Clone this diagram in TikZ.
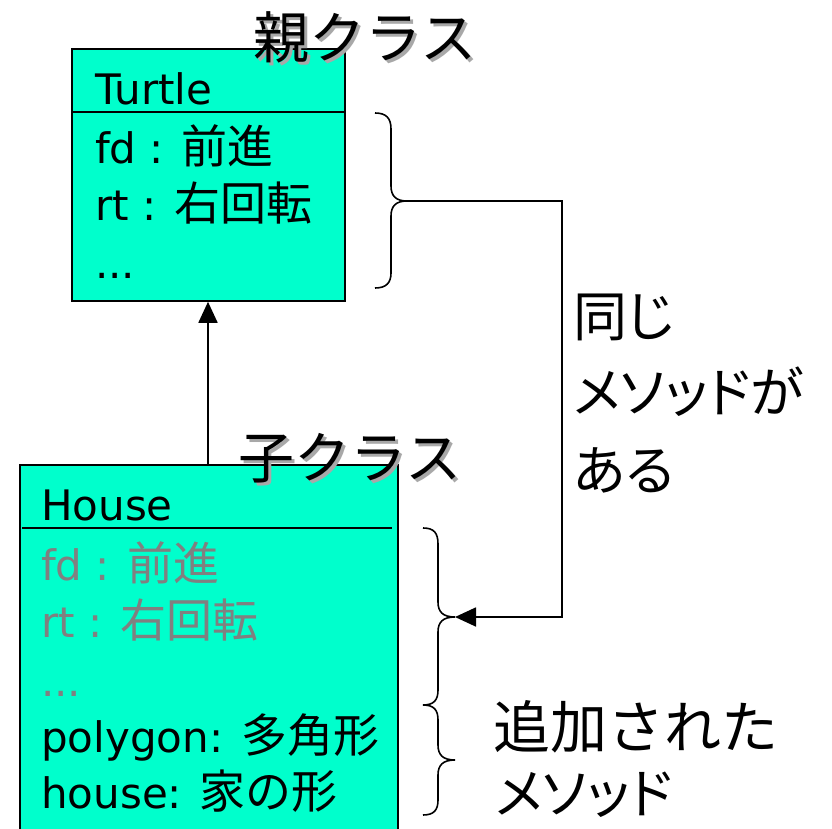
\documentclass[tikz,border=0pt]{standalone}
\usepackage{fontspec}
\setmainfont{DejaVu Sans}
\newfontfamily\jp{Noto Sans CJK JP}
\newfontfamily\jpp{Noto Sans CJK JP}[RawFeature=+palt]
\usetikzlibrary{arrows.meta}
\definecolor{boxfill}{HTML}{00FFCC}
\definecolor{graytext}{HTML}{808080}
\definecolor{shadowgray}{HTML}{A8A8A8}
\newcommand\shadowed[1]{\makebox[0pt][l]{\hspace{3pt}\raisebox{-3pt}{\color{shadowgray}#1}}#1}
\newcommand\jt[1]{{\jp\fontsize{46}{50}\selectfont #1}}
\begin{document}
\begin{tikzpicture}[x=1pt,y=-1pt,
  classbox/.style={draw=black, line width=1.8pt, fill=boxfill, rectangle, inner sep=0pt, anchor=north west},
  member/.style={anchor=base west, inner sep=0pt, font=\fontsize{42}{50}\selectfont},
  big/.style={anchor=base west, inner sep=0pt, font=\jp\fontsize{56}{60}\selectfont},
  note/.style={anchor=base west, inner sep=0pt, font=\jpp\fontsize{54}{60}\selectfont},
  notewide/.style={anchor=base west, inner sep=0pt, font=\jp\fontsize{57}{60}\selectfont},
  conn/.style={line width=1.8pt, -{Triangle[length=21pt,width=19pt]}},
  bracestyle/.style={line width=1.6pt},
  sep/.style={line width=1.6pt},
]
\fill[white] (0,0) rectangle (832,829);
\clip (0,0) rectangle (832,829);

% Turtle class
\node[classbox, minimum width=273pt, minimum height=252pt] (turtle) at (71,48) {};
\draw[sep] (71,112) -- (344,112);
\node[member] (tname) at (95,105) {Turtle};
\node[member] (tfd) at (95,164) {fd : \jt{前進}};
\node[member] (trt) at (95,220) {rt : \jt{右回転}};
\node[member] (tdots) at (95,278) {...};

% House class
\node[classbox, minimum width=378pt, minimum height=420pt] (house) at (19,464) {};
\draw[sep] (22,528) -- (392,528);
\node[member] (hname) at (41,520) {House};
\node[member, text=graytext] (hfd) at (41,580) {fd : \jt{前進}};
\node[member, text=graytext] (hrt) at (41,637) {rt : \jt{右回転}};
\node[member, text=graytext] (hdots) at (41,696) {...};
\node[member] (hpoly) at (41,752) {polygon: \jt{多角形}};
\node[member] (hhouse) at (41,808) {house: \jt{家の形}};

% inheritance arrow
\coordinate (ax) at (208,0);
\draw[conn] (ax |- house.north) -- (ax |- turtle.south);

% labels with shadow
\node[big] (parent) at (253,59) {\shadowed{親クラス}};
\node[big] (child) at (238,478) {\shadowed{子クラス}};

% top brace
\coordinate (tipA) at (407,201);
\draw[bracestyle] (375,113) .. controls (386,113) and (391,118) .. (391,129)
  -- (391,186) .. controls (391,196) and (396,201) .. (tipA)
  .. controls (396,201) and (391,206) .. (391,216)
  -- (391,273) .. controls (391,283) and (386,288) .. (375,288);

% bottom braces
\coordinate (tipB) at (455,617);
\draw[bracestyle] (423,528) .. controls (434,528) and (438,533) .. (438,544)
  -- (438,602) .. controls (438,612) and (443,617) .. (tipB)
  .. controls (443,617) and (438,622) .. (438,632)
  -- (438,690) .. controls (438,700) and (434,705) .. (423,705)
  .. controls (434,705) and (438,710) .. (438,720)
  -- (438,745) .. controls (438,755) and (443,760) .. (455,760)
  .. controls (443,760) and (438,765) .. (438,775)
  -- (438,800) .. controls (438,810) and (434,815) .. (423,815);

% connector from parent methods to child methods
\draw[conn] (tipA) -- (562,201) |- (tipB);

% notes
\node[note] (same1) at (573,336) {同じ};
\node[note] (same2) at (573,412) {メソッドが};
\node[note] (same3) at (573,490) {ある};
\node[notewide] (add1) at (493,748) {追加された};
\node[note] (add2) at (495,813) {メソッド};
\end{tikzpicture}
\end{document}
